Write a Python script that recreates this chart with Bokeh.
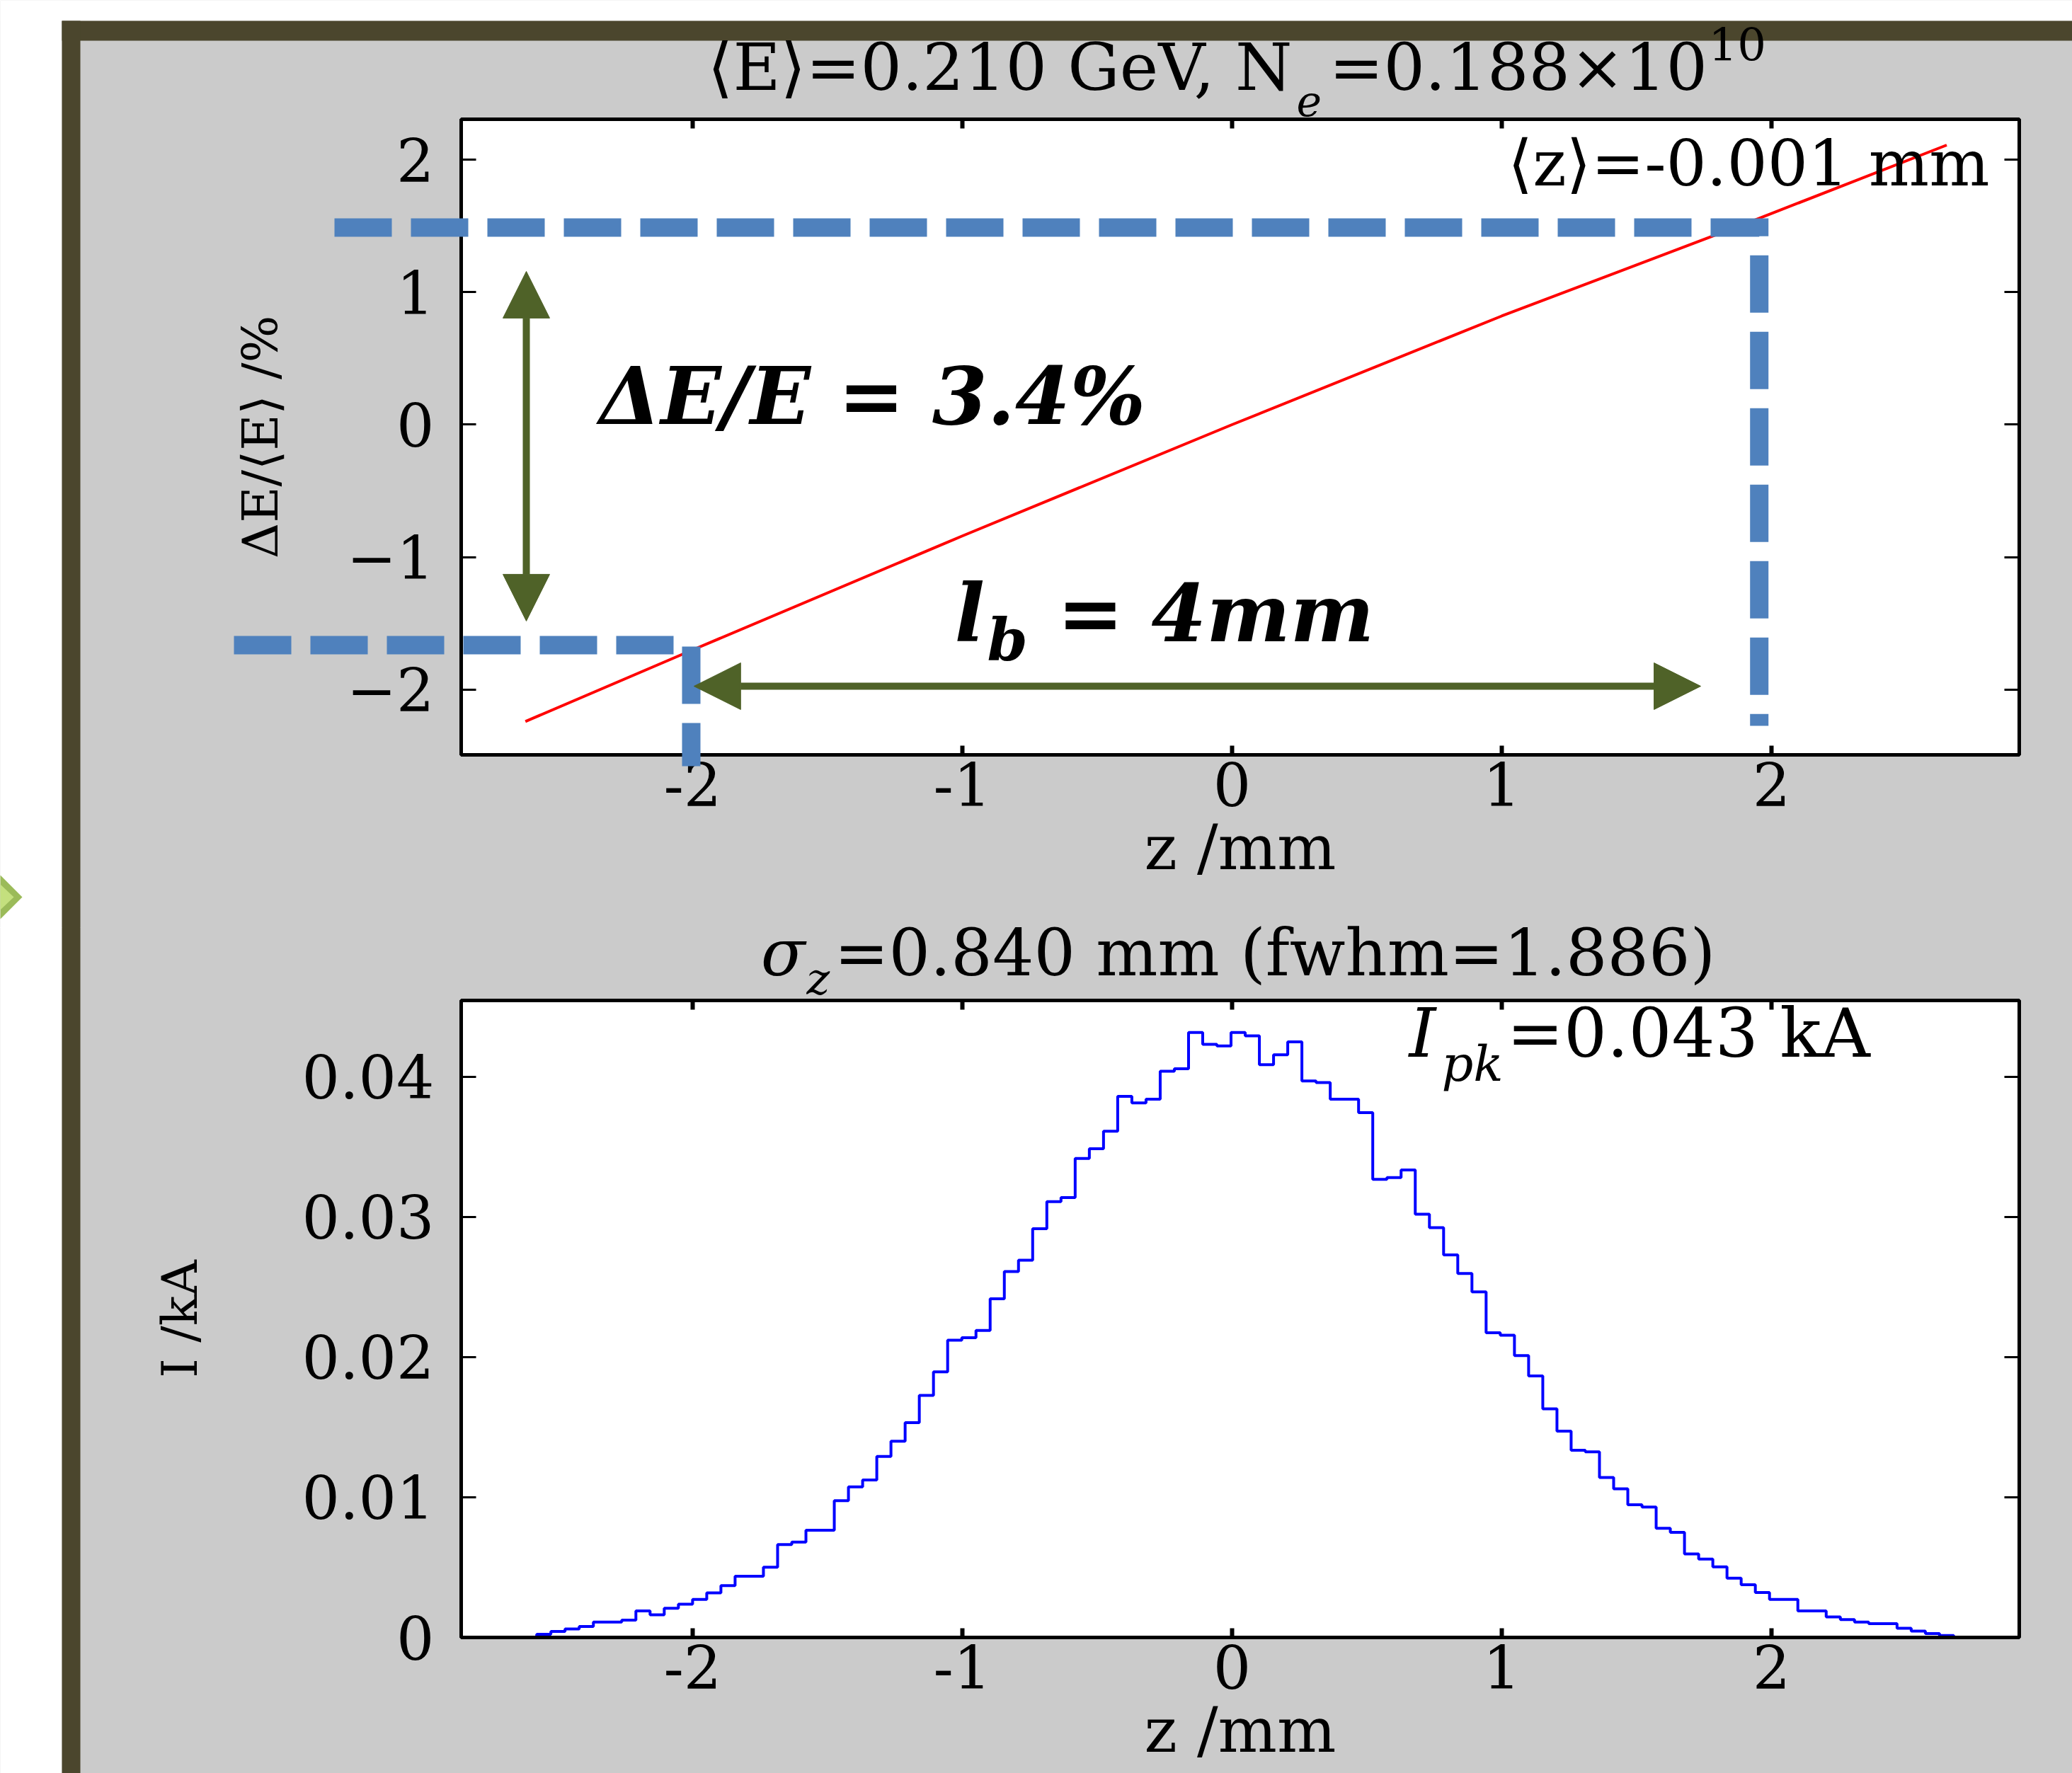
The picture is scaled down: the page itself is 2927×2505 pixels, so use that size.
import numpy as np
from bokeh.plotting import figure
from bokeh.models import (Label, Arrow, NormalHead, LinearAxis, FixedTicker, Range1d)
from bokeh.layouts import column
from bokeh.embed import file_html
from bokeh.resources import INLINE

# ---------------- data ----------------
# energy chirp along the bunch (red particle band)
chirp_z_mm = [-2.62, -2.00, -1.00, 0.00, 1.00, 1.92, 2.65]
chirp_dE_pct = [-2.24, -1.70, -0.84, 0.00, 0.82, 1.53, 2.11]

# current profile histogram, 100 bins
hist_z_start_mm = -2.578
hist_bin_width_mm = 0.05254
current_A = [
    0.23, 0.43, 0.60, 0.78, 1.10, 1.10, 1.24, 1.90, 1.62, 2.08,
    2.37, 2.72, 3.18, 3.70, 4.37, 4.37, 5.01, 6.63, 6.80, 7.65,
    7.65, 9.76, 10.75, 11.24, 12.92, 14.00, 15.33, 17.27, 18.95, 21.21,
    21.39, 21.91, 24.17, 26.11, 26.92, 29.16, 31.10, 31.39, 34.17, 34.87,
    36.12, 38.61, 38.14, 38.40, 40.40, 40.58, 43.16, 42.32, 42.20, 43.16,
    42.93, 40.87, 41.57, 42.49, 39.71, 39.59, 38.40, 38.40, 37.45, 32.69,
    32.81, 33.36, 30.20, 29.24, 27.30, 25.97, 24.66, 21.74, 21.56, 20.11,
    18.66, 16.31, 14.72, 13.36, 13.24, 11.41, 10.61, 9.47, 9.30, 7.79,
    7.50, 5.96, 5.59, 5.04, 4.23, 3.76, 3.21, 2.72, 2.72, 1.90,
    1.90, 1.47, 1.27, 1.10, 0.98, 0.98, 0.66, 0.45, 0.28, 0.14,
]

z_ticks = [-2, -1, 0, 1, 2]
z_tick_labels = ["-2", "-1", "0", "1", "2"]
dE_ticks = [-2, -1, 0, 1, 2]
dE_tick_labels = ["\u22122", "\u22121", "0", "1", "2"]
I_ticks = [0.0, 0.01, 0.02, 0.03, 0.04]
I_tick_labels = ["0", "0.01", "0.02", "0.03", "0.04"]

# bunch tail / head markers (blue dashed guides)
bunch_ends_z = [-2.005, 1.955]
bunch_ends_dE = [-1.664, 1.488]
# annotated spreads (double arrows)
spread_arrow_dE = [1.157, -1.482]
length_arrow_z = [-1.995, 1.738]

title_top = ["\u27e8E\u27e9=0.210 GeV, N", "e", "=0.188\u00d710", "10"]
title_bot = ["\u03c3", "z", "=0.840 mm (fwhm=1.886)"]
mean_z_text = "\u27e8z\u27e9=-0.001 mm"
ipk_text = ["I", "pk", "=0.043 kA"]
dE_text = "\u0394E/E = 3.4%"
lb_text = ["l", "b", "= 4mm"]

# ---------------- layout constants (page pixels) ----------------
W, H = 2927, 2505
H_TOP, H_BOT = 1310, 1195
FL, FR = 651, 2852
TOP_FT, TOP_FB = 168, 1066
BOT_FT, BOT_FB = 1413, 2313
XR = (-2.858, 2.919)
TOP_YR = (-2.492, 2.305)
BOT_YR = (0.0, 0.04545)

GREY = "#CBCBCB"
OLIVE = "#4B462D"
BLUE = "#4F81BD"
GREEN = "#4F6228"
SERIF = "DejaVu Serif"
BASE_SHIFT = 0.35   # label baseline correction (fraction of font size)


def px_x(px):
    return XR[0] + (px - FL) * (XR[1] - XR[0]) / (FR - FL)


def pyt(py):   # page pixel -> top-plot dE
    return TOP_YR[1] - (py - TOP_FT) * (TOP_YR[1] - TOP_YR[0]) / (TOP_FB - TOP_FT)


def pyb(py):   # page pixel -> bottom-plot kA
    return BOT_YR[1] - (py - BOT_FT) * (BOT_YR[1] - BOT_YR[0]) / (BOT_FB - BOT_FT)


def make_fig(height, ft, fb, yr):
    p = figure(width=W, height=height, x_range=Range1d(*XR), y_range=Range1d(*yr),
               output_backend="svg", toolbar_location=None,
               min_border_left=FL, min_border_right=W - FR,
               min_border_top=ft, min_border_bottom=height - fb,
               background_fill_color="white", border_fill_color=GREY,
               outline_line_color="black", outline_line_width=5)
    p.grid.visible = False
    return p


def style_axis(ax, tick_len, tick_w, font_px, standoff):
    ax.axis_line_color = "black"
    ax.axis_line_width = 5
    ax.major_tick_in = tick_len
    ax.major_tick_out = 0
    ax.major_tick_line_width = tick_w
    ax.minor_tick_line_color = None
    ax.major_label_text_font = SERIF
    ax.major_label_text_font_size = f"{font_px}px"
    ax.major_label_standoff = standoff
    ax.major_label_text_color = "black"
    ax.axis_label_text_font = SERIF
    ax.axis_label_text_font_style = "normal"
    ax.axis_label_text_color = "black"


def mirror_axes(p, xticks, yticks):
    for loc, ticks, tin, tw in (("above", xticks, 13, 6), ("right", yticks, 21, 3)):
        ax = LinearAxis(ticker=FixedTicker(ticks=ticks), axis_line_color=None,
                        major_tick_in=tin, major_tick_out=0, major_tick_line_width=tw,
                        minor_tick_line_color=None,
                        major_label_text_font_size="1px", major_label_text_color=None)
        p.add_layout(ax, loc)


def label(p, x, y, text, size, align="left", style="normal", font=SERIF):
    p.add_layout(Label(x=x, y=y, text=text, text_font=font, text_font_size=f"{size}px",
                       text_align=align, text_baseline="alphabetic",
                       text_font_style=style, text_color="black"))


# ---------------- top: longitudinal phase space ----------------
p1 = make_fig(H_TOP, TOP_FT, TOP_FB, TOP_YR)
p1.line(chirp_z_mm, chirp_dE_pct, line_color="red", line_width=4)

xa = p1.xaxis[0]
style_axis(xa, 13, 6, 84, 10)
xa.ticker = FixedTicker(ticks=z_ticks)
xa.major_label_overrides = {float(t): s for t, s in zip(z_ticks, z_tick_labels)}
xa.axis_label = "z /mm"
xa.axis_label_text_font_size = "88px"
xa.axis_label_standoff = 4
ya = p1.yaxis[0]
style_axis(ya, 21, 3, 84, 38)
ya.ticker = FixedTicker(ticks=dE_ticks)
ya.major_label_overrides = {float(t): s for t, s in zip(dE_ticks, dE_tick_labels)}
ya.axis_label = "\u0394E/\u27e8E\u27e9 /%"
ya.axis_label_text_font_size = "70px"
ya.axis_label_standoff = 78
mirror_axes(p1, z_ticks, dE_ticks)

label(p1, px_x(2810), pyt(261 - BASE_SHIFT * 90), mean_z_text, 90, align="right")

# ---------------- bottom: current profile ----------------
p2 = make_fig(H_BOT, BOT_FT - H_TOP, BOT_FB - H_TOP, BOT_YR)
edges = hist_z_start_mm + hist_bin_width_mm * np.arange(len(current_A) + 1)
current_kA = [a / 1000.0 for a in current_A]
step_x = [edges[0]] + list(edges)
step_y = [0.0] + current_kA + [0.0]
p2.step(step_x, step_y, mode="after", line_color="#0000FF", line_width=4)

xb = p2.xaxis[0]
style_axis(xb, 13, 6, 84, 10)
xb.ticker = FixedTicker(ticks=z_ticks)
xb.major_label_overrides = {float(t): s for t, s in zip(z_ticks, z_tick_labels)}
xb.axis_label = "z /mm"
xb.axis_label_text_font_size = "88px"
xb.axis_label_standoff = 4
yb = p2.yaxis[0]
style_axis(yb, 21, 3, 84, 38)
yb.ticker = FixedTicker(ticks=I_ticks)
yb.major_label_overrides = {float(t): s for t, s in zip(I_ticks, I_tick_labels)}
yb.axis_label = "I /kA"
yb.axis_label_text_font_size = "70px"
yb.axis_label_standoff = 128
mirror_axes(p2, z_ticks, I_ticks)

label(p2, px_x(1990), pyb(1493 - BASE_SHIFT * 96), ipk_text[0], 96, style="italic")
label(p2, px_x(2036), pyb(1527 - BASE_SHIFT * 70), ipk_text[1], 70, style="italic")
label(p2, px_x(2128), pyb(1493 - BASE_SHIFT * 96), ipk_text[2], 96)

# ---------------- overlay: slide frame, guides, callouts ----------------
ov = figure(width=W, height=H, x_range=Range1d(px_x(0), px_x(W)),
            y_range=Range1d(pyt(H), pyt(0)), output_backend="svg",
            toolbar_location=None, x_axis_location=None, y_axis_location=None,
            min_border=0, min_border_left=0, min_border_right=0,
            min_border_top=0, min_border_bottom=0, title=None,
            background_fill_color=None, border_fill_color=None, outline_line_color=None,
            styles={"position": "absolute", "top": "0px", "left": "0px"})
ov.grid.visible = False

# grey seam between the two plot canvases
ov.quad(left=[px_x(113)], right=[px_x(W)], top=[pyt(1298)], bottom=[pyt(1322)],
        fill_color=GREY, line_color=None)
# white page margin and dark slide frame
ov.quad(left=[px_x(0), px_x(0), px_x(87), px_x(87)],
        right=[px_x(W), px_x(87), px_x(W), px_x(113)],
        top=[pyt(0), pyt(0), pyt(29), pyt(29)],
        bottom=[pyt(29), pyt(H), pyt(57), pyt(H)],
        fill_color=["white", "white", OLIVE, OLIVE], line_color=None)
# green chevron at the left edge
ov.patch([px_x(-31), px_x(0), px_x(31), px_x(0)], [pyt(1267), pyt(1236), pyt(1267), pyt(1298)],
         fill_color="#9BBB59", line_color=None)
ov.patch([px_x(-19), px_x(0), px_x(19), px_x(0)], [pyt(1267), pyt(1249), pyt(1267), pyt(1285)],
         fill_color="#C4E07E", line_color=None)

# blue dashed guides marking bunch head and tail
ov.line([px_x(472), bunch_ends_z[1], bunch_ends_z[1]],
        [bunch_ends_dE[1], bunch_ends_dE[1], pyt(1025)],
        line_color=BLUE, line_width=26, line_dash="81 27", line_cap="butt", line_join="miter")
ov.line([px_x(330), bunch_ends_z[0], bunch_ends_z[0]],
        [bunch_ends_dE[0], bunch_ends_dE[0], pyt(1082)],
        line_color=BLUE, line_width=26, line_dash="81 27", line_cap="butt", line_join="miter")


def dbl_arrow(p, x0, y0, x1, y1):
    p.add_layout(Arrow(start=NormalHead(size=66, fill_color=GREEN, line_color=GREEN),
                       end=NormalHead(size=66, fill_color=GREEN, line_color=GREEN),
                       x_start=x0, y_start=y0, x_end=x1, y_end=y1,
                       line_color=GREEN, line_width=10))


dbl_arrow(ov, px_x(743), spread_arrow_dE[0], px_x(743), spread_arrow_dE[1])
dbl_arrow(ov, length_arrow_z[0], pyt(969), length_arrow_z[1], pyt(969))

# callouts
label(ov, px_x(846), pyt(598 - BASE_SHIFT * 112), dE_text, 112, style="bold italic")
label(ov, px_x(1348), pyt(905 - BASE_SHIFT * 112), lb_text[0], 112, style="bold italic")
label(ov, px_x(1394), pyt(932 - BASE_SHIFT * 82), lb_text[1], 82, style="bold italic")
label(ov, px_x(1493), pyt(905 - BASE_SHIFT * 112), lb_text[2], 112, style="bold italic")

# plot titles
label(ov, px_x(1825), pyt(127 - BASE_SHIFT * 92), title_top[0], 92, align="right")
label(ov, px_x(1831), pyt(162 - BASE_SHIFT * 60), title_top[1], 60, style="italic")
label(ov, px_x(1877), pyt(127 - BASE_SHIFT * 92), title_top[2], 92)
label(ov, px_x(2413), pyt(84 - BASE_SHIFT * 64), title_top[3], 64)

label(ov, px_x(1137), pyt(1378 - BASE_SHIFT * 92), title_bot[0], 92, align="right", style="italic")
label(ov, px_x(1139), pyt(1404 - BASE_SHIFT * 62), title_bot[1], 62, style="italic")
label(ov, px_x(1178), pyt(1378 - BASE_SHIFT * 92), title_bot[2], 92)

page = column(p1, p2, spacing=0)
open("out.html", "w").write(file_html([page, ov], INLINE))
